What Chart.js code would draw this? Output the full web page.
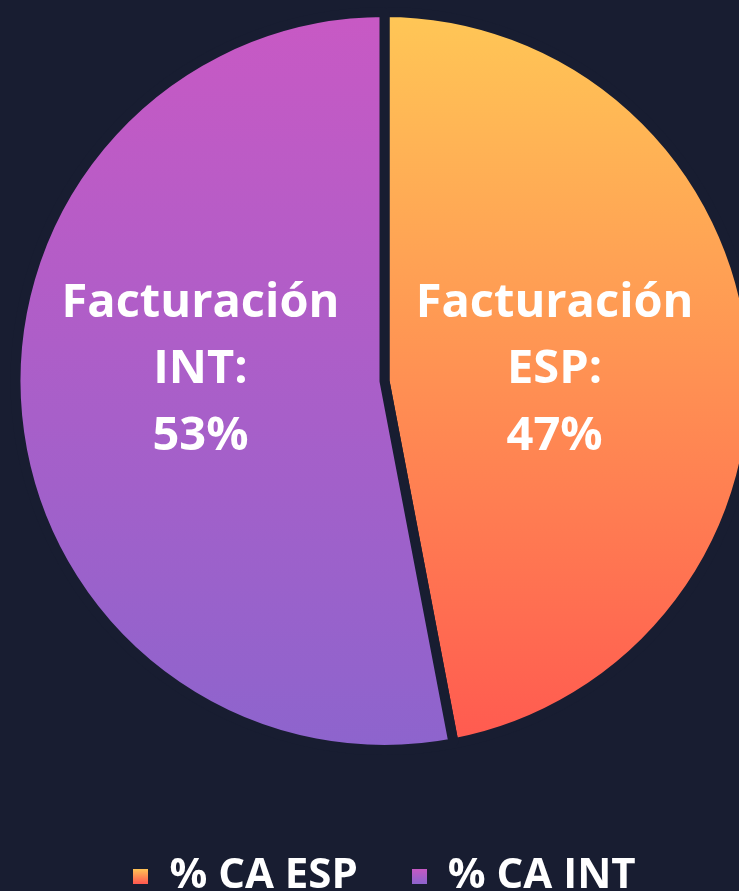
<!DOCTYPE html>
<html lang="es">
<head>
<meta charset="utf-8">
<title>Facturación ESP / INT</title>
<script src="https://cdn.jsdelivr.net/npm/chart.js@4.4.1/dist/chart.umd.min.js"></script>
<style>
  html, body {
    margin: 0;
    padding: 0;
    width: 739px;
    height: 891px;
    overflow: hidden;
    background: #181d31;
  }
  #wrap {
    position: absolute;
    left: 0;
    top: -39px;
    width: 769px;
    height: 946px;
  }
</style>
</head>
<body>
<div id="wrap"><canvas id="grafico"></canvas></div>
<script>
// datos
const categorias = ['ESP', 'INT'];
const porcentajes = [47, 53];
const leyendas = ['% CA ESP', '% CA INT'];

const FONDO = '#181d31';
const RADIO = 369;
const gradientes = [
    ['#ffc756', '#ff5950'],
    ['#c859c4', '#8d64cd']
];

// cuadrito de la leyenda con su propio degradado
function cuadroLeyenda(colores) {
    const c = document.createElement('canvas');
    c.width = 15;
    c.height = 15;
    const g = c.getContext('2d');
    const grad = g.createLinearGradient(0, 0, 0, 15);
    grad.addColorStop(0, colores[0]);
    grad.addColorStop(1, colores[1]);
    g.fillStyle = grad;
    g.fillRect(0, 0, 15, 15);
    return c;
}
const iconos = gradientes.map(cuadroLeyenda);

function colorPorcion(context) {
    const chart = context.chart;
    const area = chart.chartArea;
    if (!area) return gradientes[context.dataIndex][0];
    const cy = (area.top + area.bottom) / 2;
    const grad = chart.ctx.createLinearGradient(0, cy - RADIO, 0, cy + RADIO);
    const col = gradientes[context.dataIndex];
    grad.addColorStop(0, col[0]);
    grad.addColorStop(1, col[1]);
    return grad;
}

// textos dentro de cada porción
const etiquetasPorcion = {
    id: 'etiquetasPorcion',
    afterDatasetsDraw(chart) {
        const ctx = chart.ctx;
        const meta = chart.getDatasetMeta(0);
        ctx.save();
        ctx.fillStyle = '#ffffff';
        ctx.font = 'bold 47px "Open Sans"';
        ctx.textAlign = 'center';
        ctx.textBaseline = 'middle';
        meta.data.forEach((arco, i) => {
            const medio = (arco.startAngle + arco.endAngle) / 2;
            const x = arco.x + Math.cos(medio) * arco.outerRadius * 0.482 - 7;
            const y = arco.y - 11;
            const lineas = ['Facturación', categorias[i] + ':', porcentajes[i] + '%'];
            lineas.forEach((t, k) => {
                ctx.fillText(t, x, y + (k - 1) * 66.5);
            });
        });
        ctx.restore();
    }
};

new Chart(document.getElementById('grafico'), {
    type: 'pie',
    data: {
        labels: leyendas,
        datasets: [{
            data: porcentajes,
            backgroundColor: colorPorcion,
            borderColor: FONDO,
            borderWidth: 10
        }]
    },
    options: {
        responsive: true,
        maintainAspectRatio: false,
        animation: false,
        radius: RADIO,
        layout: { padding: 0 },
        plugins: {
            tooltip: { enabled: false },
            legend: {
                position: 'bottom',
                labels: {
                    color: '#ffffff',
                    padding: 54,
                    boxWidth: 15,
                    boxHeight: 15,
                    usePointStyle: true,
                    font: { family: '"Open Sans"', size: 42, weight: 'bold' },
                    generateLabels(chart) {
                        return chart.data.labels.map((texto, i) => ({
                            text: texto,
                            fillStyle: gradientes[i][0],
                            strokeStyle: gradientes[i][0],
                            lineWidth: 0,
                            pointStyle: iconos[i],
                            fontColor: '#ffffff',
                            hidden: !chart.getDataVisibility(i),
                            index: i
                        }));
                    }
                }
            }
        }
    },
    plugins: [etiquetasPorcion]
});
</script>
</body>
</html>
